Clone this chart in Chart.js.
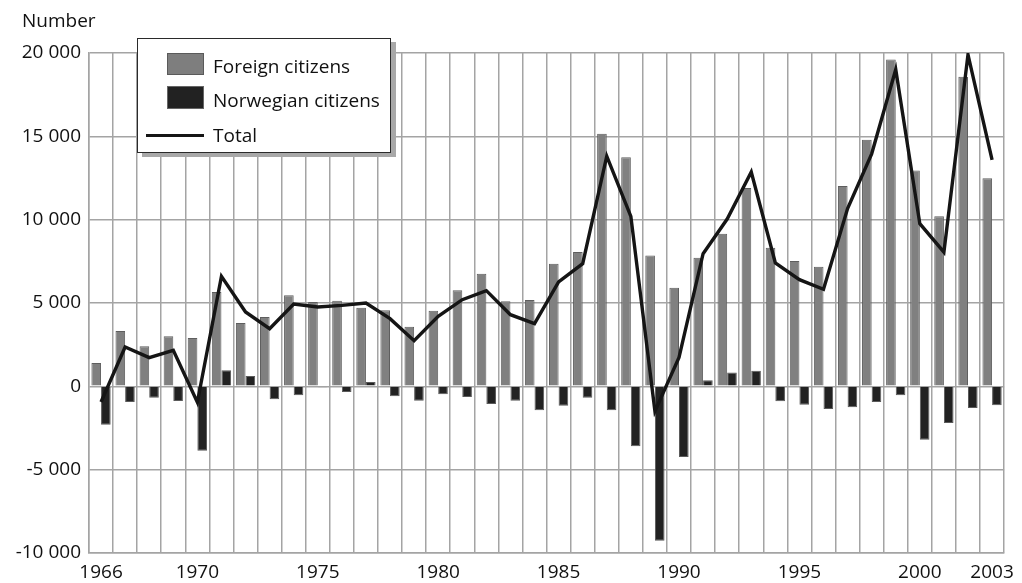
<!DOCTYPE html>
<html>
<head>
<meta charset="utf-8">
<script src="https://cdn.jsdelivr.net/npm/chart.js@4.4.1/dist/chart.umd.min.js"></script>
<style>
  html, body { margin: 0; padding: 0; background: #fff; }
  #wrap { position: relative; width: 1022px; height: 583px; font-family: "Open Sans", sans-serif; color: #111; }
  #c { position: absolute; left: 0; top: 0; }
  #ytitle { position: absolute; left: 22px; top: 8px; font-size: 19px; line-height: 24px; }
  #legend { position: absolute; left: 137px; top: 38px; width: 254px; height: 115px; background: #fff;
            border: 1.5px solid #2a2a2a; box-shadow: 5px 4px 0 #a8a8a8; box-sizing: border-box; }
  .sw { position: absolute; box-sizing: border-box; }
  .lt { position: absolute; left: 75px; font-size: 19px; line-height: 24px; white-space: nowrap; }
</style>
</head>
<body>
<div id="wrap">
  <canvas id="c" width="1022" height="583"></canvas>
  <div id="ytitle">Number</div>
  <div id="legend">
    <div class="sw" style="left:29px;top:14px;width:37px;height:22px;background:#7e7e7e;border:1px solid #5a5a5a;"></div>
    <div class="lt" style="top:15px;">Foreign citizens</div>
    <div class="sw" style="left:29px;top:47px;width:37px;height:23px;background:#222;border:1px solid #666;"></div>
    <div class="lt" style="top:49px;">Norwegian citizens</div>
    <div class="sw" style="left:8px;top:95px;width:58px;height:3px;background:#151515;"></div>
    <div class="lt" style="top:84px;">Total</div>
  </div>
</div>
<script>
const years = ['1966','1967','1968','1969','1970','1971','1972','1973','1974','1975',
  '1976','1977','1978','1979','1980','1981','1982','1983','1984','1985',
  '1986','1987','1988','1989','1990','1991','1992','1993','1994','1995',
  '1996','1997','1998','1999','2000','2001','2002','2003'];

const foreignCitizens = [1400, 3320, 2400, 3000, 2900, 5660, 3800, 4160, 5460, 5060,
  5140, 4720, 4560, 3580, 4540, 5760, 6760, 5100, 5180, 7360,
  8060, 15160, 13750, 7850, 5920, 7720, 9150, 11900, 8310, 7520,
  7180, 12020, 14800, 19610, 12950, 10200, 18570, 12480];

const norwegianCitizens = [-2300, -940, -680, -880, -3860, 960, 620, -780, -540, -50,
  -340, 260, -600, -860, -480, -640, -1060, -860, -1440, -1160,
  -680, -1440, -3600, -9270, -4240, 360, 830, 940, -900, -1100,
  -1360, -1260, -940, -540, -3200, -2200, -1300, -1140];

const total = [-940, 2360, 1720, 2160, -960, 6600, 4460, 3460, 4940, 4760,
  4860, 5000, 4060, 2740, 4200, 5200, 5740, 4300, 3760, 6260,
  7360, 13810, 10200, -1500, 1740, 7960, 10040, 12860, 7400, 6400,
  5820, 10670, 13950, 19010, 9760, 8050, 19900, 13590];

const shownYears = ['1966','1970','1975','1980','1985','1990','1995','2000','2003'];
const yMin = -10000, yMax = 20000, yStep = 5000;

function fmt(v) {
  const s = Math.abs(v).toString().replace(/\B(?=(\d{3})+(?!\d))/g, ' ');
  return (v < 0 ? '-' : '') + s;
}

const gridColor = '#a4a4a4';
const tickFont = { family: '"Open Sans", sans-serif', size: 19 };

new Chart(document.getElementById('c'), {
  type: 'bar',
  data: {
    labels: years,
    datasets: [
      { type: 'line', label: 'Total', data: total, borderColor: '#151515', borderWidth: 3.4,
        pointRadius: 0, tension: 0, fill: false, order: 0 },
      { label: 'Foreign citizens', data: foreignCitizens, backgroundColor: '#808080',
        borderColor: '#5e5e5e', borderWidth: 1, order: 1,
        categoryPercentage: 0.8, barPercentage: 1.0 },
      { label: 'Norwegian citizens', data: norwegianCitizens, backgroundColor: '#222222',
        borderColor: '#5a5a5a', borderWidth: 1, order: 1,
        categoryPercentage: 0.8, barPercentage: 1.0 }
    ]
  },
  options: {
    responsive: false,
    animation: false,
    devicePixelRatio: 1,
    layout: { padding: { top: 53, right: 15, left: 0, bottom: 0 } },
    plugins: { legend: { display: false }, tooltip: { enabled: false } },
    scales: {
      x: {
        offset: true,
        grid: { offset: true, color: gridColor, lineWidth: 1.5, drawTicks: false },
        border: { color: gridColor, width: 1.5 },
        ticks: {
          autoSkip: false, maxRotation: 0, minRotation: 0, padding: 8,
          color: '#111', font: tickFont,
          callback: function(val, idx) { const l = years[idx]; return shownYears.includes(l) ? l : ''; }
        },
        afterFit: function(s) { s.height = 30; }
      },
      y: {
        min: yMin, max: yMax,
        grid: { color: gridColor, lineWidth: 1.5, drawTicks: false },
        border: { color: gridColor, width: 1.5 },
        ticks: { stepSize: yStep, padding: 8, color: '#111', font: tickFont,
          callback: function(v) { return fmt(v); } },
        afterFit: function(s) { s.width = 89; }
      }
    }
  }
});
</script>
</body>
</html>
